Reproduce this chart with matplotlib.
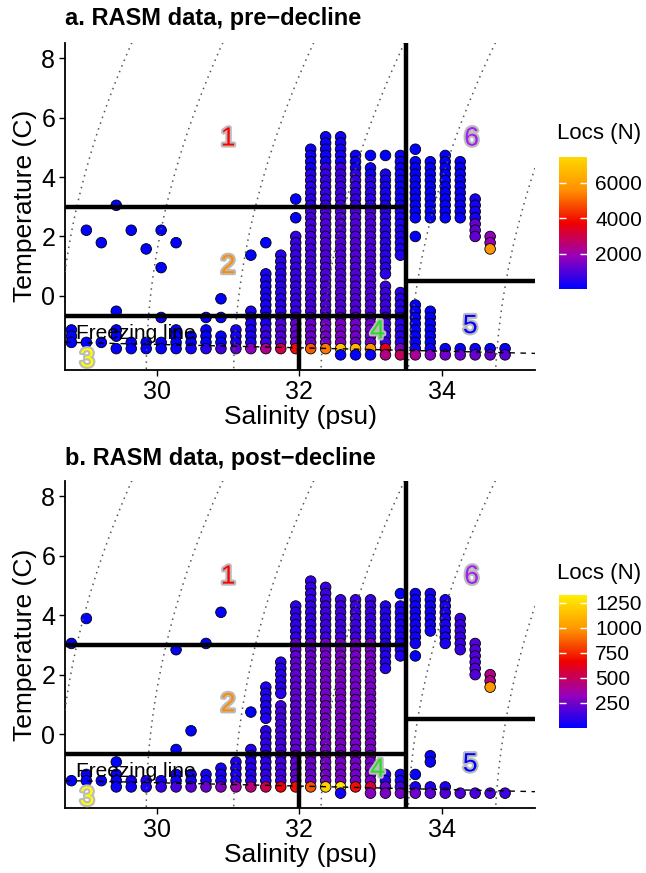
import numpy as np
import matplotlib
matplotlib.use("Agg")
import matplotlib.pyplot as plt
import matplotlib.patheffects as pe
from matplotlib.colors import LinearSegmentedColormap

plt.rcParams['font.family'] = ['Liberation Sans', 'DejaVu Sans']

# T-S bins of the RASM output
sal_bins = [28.80, 29.01, 29.22, 29.43, 29.64, 29.85, 30.06, 30.27, 30.48, 30.69,
            30.90, 31.11, 31.32, 31.53, 31.74, 31.95, 32.16, 32.37, 32.58, 32.79,
            33.00, 33.21, 33.42, 33.63, 33.84, 34.05, 34.26, 34.47, 34.68, 34.89]
temp_bins = [-1.99, -1.78, -1.57, -1.36, -1.15, -0.94, -0.73, -0.52, -0.31, -0.10,
             0.11, 0.32, 0.53, 0.74, 0.95, 1.16, 1.37, 1.58, 1.79, 2.00,
             2.21, 2.42, 2.63, 2.84, 3.05, 3.26, 3.47, 3.68, 3.89, 4.10,
             4.31, 4.52, 4.73, 4.94, 5.15, 5.36]

# per salinity bin: (temp from, temp to, locs)
pre_cells = [
    [(-1.57, -1.15, 30)],
    [(-1.57, -1.57, 30), (2.21, 2.21, 30)],
    [(-1.57, -1.57, 30), (1.79, 1.79, 30)],
    [(-1.78, -1.78, 60), (-1.36, -1.15, 30), (-0.52, -0.52, 30), (3.05, 3.05, 30)],
    [(-1.78, -1.57, 60), (2.21, 2.21, 30)],
    [(-1.78, -1.57, 60), (1.58, 1.58, 30)],
    [(-1.78, -1.57, 80), (-0.73, -0.73, 30), (0.95, 0.95, 30), (2.21, 2.21, 30)],
    [(-1.78, -1.78, 150), (-1.57, -1.15, 50), (1.79, 1.79, 30)],
    [(-1.78, -1.78, 250), (-1.57, -1.36, 60)],
    [(-1.78, -1.78, 450), (-1.57, -1.15, 80), (-0.73, -0.73, 30)],
    [(-1.78, -1.78, 800), (-1.57, -1.36, 100), (-0.73, -0.73, 30), (-0.10, -0.10, 30)],
    [(-1.78, -1.78, 1200), (-1.57, -1.15, 300)],
    [(-1.78, -1.78, 1700), (-1.57, -0.52, 350), (1.37, 1.37, 30)],
    [(-1.78, -1.78, 2300), (-1.57, -1.15, 700), (-0.94, 0.74, 300), (1.79, 1.79, 30)],
    [(-1.78, -1.78, 3000), (-1.57, -0.94, 1000), (-0.73, 1.37, 500)],
    [(-1.78, -1.78, 3900), (-1.57, -0.94, 1200), (-0.73, 2.00, 700), (2.63, 2.63, 60), (3.26, 3.26, 30)],
    [(-1.78, -1.78, 4900), (-1.57, -0.94, 1300), (-0.73, 2.84, 850), (3.05, 4.10, 550), (4.31, 4.94, 200)],
    [(-1.78, -1.78, 5300), (-1.57, -0.94, 1400), (-0.73, 2.84, 950), (3.05, 4.31, 650), (4.52, 5.36, 200)],
    [(-1.99, -1.99, 80), (-1.78, -1.78, 6900), (-1.57, -0.94, 1500), (-0.73, 2.84, 1000), (3.05, 4.31, 750), (4.52, 5.36, 250)],
    [(-1.99, -1.99, 80), (-1.78, -1.78, 6700), (-1.57, -0.94, 1400), (-0.73, 2.84, 1000), (3.05, 4.10, 650), (4.31, 4.73, 200)],
    [(-1.99, -1.99, 120), (-1.78, -1.78, 5700), (-1.57, -0.94, 1300), (-0.73, 2.84, 950), (3.05, 3.89, 550), (4.10, 4.31, 200), (4.73, 4.73, 30)],
    [(-1.99, -1.99, 2400), (-1.78, -1.78, 3500), (-1.57, 0.32, 750), (0.74, 2.84, 550), (3.05, 4.10, 300), (4.73, 4.73, 30)],
    [(-1.99, -1.99, 2800), (-1.78, -1.78, 1500), (-1.57, 0.11, 500), (1.37, 2.84, 350), (3.05, 4.73, 150)],
    [(-1.99, -1.99, 2200), (-1.78, -1.78, 150), (-1.57, -0.31, 60), (2.00, 2.00, 30), (2.63, 4.52, 60), (4.94, 4.94, 30)],
    [(-1.99, -1.99, 1600), (-1.78, -1.78, 120), (-1.57, -0.52, 50), (2.63, 4.52, 80)],
    [(-1.99, -1.99, 1400), (-1.78, -1.78, 100), (2.63, 4.73, 80)],
    [(-1.99, -1.99, 1300), (-1.78, -1.78, 100), (2.63, 4.52, 100)],
    [(-1.99, -1.99, 1300), (-1.78, -1.78, 100), (2.00, 2.42, 1200), (2.63, 3.26, 300)],
    [(-1.99, -1.99, 1300), (-1.78, -1.78, 100), (1.58, 1.58, 5800), (1.79, 2.00, 1800)],
    [(-1.99, -1.99, 1100), (-1.78, -1.78, 80)],
]

post_cells = [
    [(-1.57, -1.57, 10), (3.05, 3.05, 10)],
    [(-1.57, -1.36, 15), (3.89, 3.89, 10)],
    [(-1.57, -1.57, 15)],
    [(-1.78, -1.78, 30), (-1.57, -1.36, 20), (-0.94, -0.94, 10)],
    [(-1.78, -1.57, 40)],
    [(-1.78, -1.57, 60)],
    [(-1.78, -1.78, 110), (-1.57, -1.57, 40)],
    [(-1.78, -1.78, 160), (-1.57, -1.36, 40), (-0.52, -0.52, 10), (2.84, 2.84, 10)],
    [(-1.78, -1.78, 190), (-1.57, -1.36, 40), (0.11, 0.11, 10)],
    [(-1.78, -1.78, 230), (-1.57, -1.36, 50), (3.05, 3.05, 10)],
    [(-1.78, -1.78, 270), (-1.57, -1.15, 50), (4.10, 4.10, 10)],
    [(-1.78, -1.78, 360), (-1.57, -0.94, 70)],
    [(-1.78, -1.78, 450), (-1.57, -0.52, 80), (0.74, 0.74, 10)],
    [(-1.78, -1.78, 520), (-1.57, 0.11, 100), (0.53, 1.58, 70)],
    [(-1.78, -1.78, 650), (-1.57, 0.95, 150), (1.37, 2.42, 90)],
    [(-1.78, -1.78, 690), (-1.57, 3.05, 210), (3.26, 4.31, 100)],
    [(-1.78, -1.78, 850), (-1.57, 3.05, 230), (3.26, 5.15, 110)],
    [(-1.78, -1.78, 1220), (-1.57, 3.05, 250), (3.26, 4.94, 130)],
    [(-1.99, -1.99, 40), (-1.78, -1.78, 1300), (-1.57, 3.05, 260), (3.26, 4.52, 140)],
    [(-1.78, -1.78, 700), (-1.57, 3.05, 250), (3.26, 4.52, 130)],
    [(-1.99, -1.99, 300), (-1.78, -1.78, 580), (-1.57, 3.05, 260), (3.26, 4.52, 120)],
    [(-1.99, -1.99, 260), (-1.78, -1.78, 240), (-1.57, -1.36, 80), (2.21, 4.31, 80)],
    [(-1.99, -1.99, 250), (-1.78, -1.78, 150), (-1.57, -1.36, 60), (2.63, 4.31, 60), (4.73, 4.73, 10)],
    [(-1.99, -1.99, 240), (-1.78, -1.78, 60), (-1.36, -1.36, 20), (2.63, 2.63, 10), (3.05, 4.73, 40)],
    [(-1.99, -1.99, 200), (-1.78, -1.78, 60), (-0.94, -0.73, 20), (3.47, 4.73, 40)],
    [(-1.99, -1.99, 180), (-1.78, -1.78, 60), (3.05, 4.52, 60)],
    [(-1.99, -1.99, 170), (2.84, 3.89, 120)],
    [(-1.99, -1.99, 160), (2.00, 3.05, 180)],
    [(-1.99, -1.99, 160), (1.58, 1.58, 1000), (1.79, 2.00, 420)],
    [(-1.99, -1.99, 130)],
]

# water mass boundaries
t_upper = 3.0
t_lower = -0.67
t_atlantic = 0.5
s_front = 33.5
s_split = 32.0

region_ids = ['1', '2', '3', '4', '5', '6']
region_colors = ['red', 'darkorange', 'yellow', '#22DD22', 'blue', '#A020F0']
region_sal = [31.0, 31.0, 29.02, 33.1, 34.4, 34.42]
region_temp = [5.3, 1.0, -2.15, -1.2, -1.02, 5.3]

sigma_levels = [22, 23, 24, 25, 26, 27, 28]
xlim = (28.71, 35.31)
ylim = (-2.5, 8.53)


def sigma_t(S, T):
    rho_w = (999.842594 + 6.793952e-2 * T - 9.095290e-3 * T**2 + 1.001685e-4 * T**3
             - 1.120083e-6 * T**4 + 6.536332e-9 * T**5)
    a = 8.24493e-1 - 4.0899e-3 * T + 7.6438e-5 * T**2 - 8.2467e-7 * T**3 + 5.3875e-9 * T**4
    b = -5.72466e-3 + 1.0227e-4 * T - 1.6546e-6 * T**2
    return rho_w + a * S + b * S**1.5 + 4.8314e-4 * S**2 - 1000


def freezing_t(S):
    return -0.0575 * S + 1.710523e-3 * S**1.5 - 2.154996e-4 * S**2


def expand(cells):
    xs, ys, ns = [], [], []
    for s, segs in zip(sal_bins, cells):
        for lo, hi, n in segs:
            for t in temp_bins:
                if lo - 0.005 <= t <= hi + 0.005:
                    xs.append(s)
                    ys.append(t)
                    ns.append(n)
    xs, ys, ns = np.array(xs), np.array(ys), np.array(ns)
    order = np.argsort(-ys, kind='stable')
    return xs[order], ys[order], ns[order]


def panel(fig, rect, crect, cells, vmax, cmap, cticks, title, title_y, ctitle_y):
    ax = fig.add_axes(rect)
    xs, ys, ns = expand(cells)
    sc = ax.scatter(xs, ys, c=ns, cmap=cmap, vmin=0, vmax=vmax, s=58,
                    edgecolors='black', linewidths=0.6, zorder=2)

    gs = np.linspace(xlim[0], xlim[1], 300)
    gt = np.linspace(ylim[0], ylim[1], 300)
    GS, GT = np.meshgrid(gs, gt)
    ax.contour(GS, GT, sigma_t(GS, GT), levels=sigma_levels, colors='#555555',
               linewidths=1.1, linestyles=[(0, (1, 3))], zorder=3)

    ax.plot(gs, freezing_t(gs), color='black', lw=1.0, ls=(0, (4, 4)), zorder=4)

    kw = dict(color='black', lw=3.2, solid_capstyle='butt', zorder=5)
    ax.plot([xlim[0], s_front], [t_upper, t_upper], **kw)
    ax.plot([xlim[0], s_front], [t_lower, t_lower], **kw)
    ax.plot([s_front, xlim[1]], [t_atlantic, t_atlantic], **kw)
    ax.plot([s_front, s_front], [ylim[0], ylim[1]], **kw)
    ax.plot([s_split, s_split], [ylim[0], t_lower], **kw)

    ax.text(28.86, -1.26, 'Freezing line', fontsize=15, ha='left', va='center', zorder=6)
    for lab, col, s, t in zip(region_ids, region_colors, region_sal, region_temp):
        ax.text(s, t, lab, color=col, fontsize=19, ha='center', va='center', zorder=7,
                path_effects=[pe.withStroke(linewidth=3, foreground='#BBBBBB')])

    ax.set_xlim(*xlim)
    ax.set_ylim(*ylim)
    ax.set_xticks([30, 32, 34])
    ax.set_yticks([0, 2, 4, 6, 8])
    ax.tick_params(labelsize=18, length=4, width=1, colors='black', pad=3)
    for side in ['top', 'right']:
        ax.spines[side].set_visible(False)
    for side in ['left', 'bottom']:
        ax.spines[side].set_linewidth(1.3)
    ax.set_xlabel('Salinity (psu)', fontsize=19, labelpad=1)
    ax.set_ylabel('Temperature (C)', fontsize=19, labelpad=3)

    fig.text(rect[0], title_y, title, fontsize=17, fontweight='bold', ha='left', va='center')

    cax = fig.add_axes(crect)
    cb = fig.colorbar(sc, cax=cax, ticks=cticks)
    cb.outline.set_visible(False)
    cax.tick_params(axis='y', direction='in', color='white', length=5, width=1,
                    left=True, right=True, labelleft=False, labelright=True,
                    labelsize=15, labelcolor='black', pad=6)
    fig.text(crect[0] - 0.003, ctitle_y, 'Locs (N)', fontsize=16, ha='left', va='center')
    return ax


W, H = 646, 873
fig = plt.figure(figsize=(W / 100, H / 100), dpi=100)

cmap_pre = LinearSegmentedColormap.from_list('pre', ['#0000FF', '#9A00B8', '#F00000', '#FF9000', '#FFD700'])
cmap_post = LinearSegmentedColormap.from_list('post', ['#0000FF', '#9A00B8', '#F00000', '#FF9800', '#FFEE00'])

panel(fig, [65 / W, 1 - 370 / H, 470 / W, 327.3 / H], [559 / W, 1 - 289 / H, 28 / W, 132 / H],
      pre_cells, 7470, cmap_pre, [2000, 4000, 6000],
      'a. RASM data, pre\u2212decline', 1 - 18 / H, 1 - 133 / H)
panel(fig, [65 / W, 1 - 808.3 / H, 470 / W, 327.6 / H], [559 / W, 1 - 728 / H, 28 / W, 133 / H],
      post_cells, 1328, cmap_post, [250, 500, 750, 1000, 1250],
      'b. RASM data, post\u2212decline', 1 - 458 / H, 1 - 573 / H)

fig.savefig('out.png', dpi=100)
